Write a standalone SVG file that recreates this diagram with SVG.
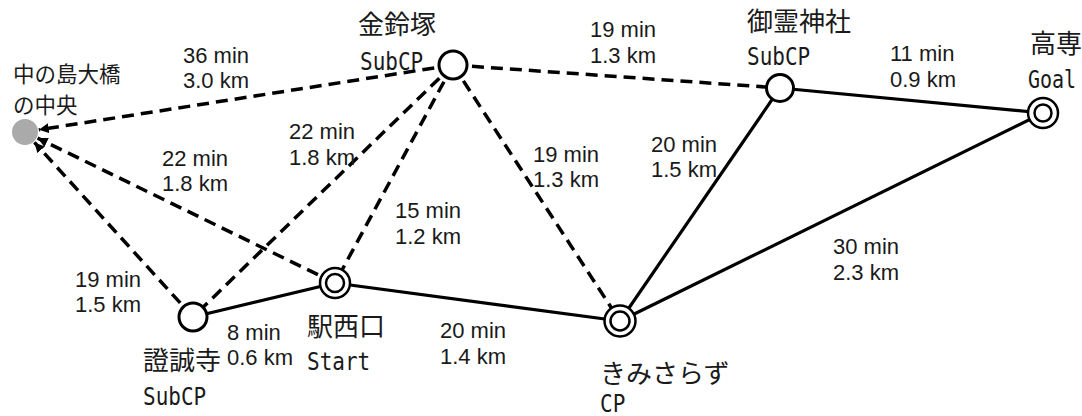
<svg xmlns="http://www.w3.org/2000/svg" width="1082" height="416" viewBox="0 0 1082 416">
<defs>
<style>
.e{stroke:#000;stroke-width:3.2;fill:none}
.d{stroke-dasharray:12 7;stroke-width:3.5}
.n{fill:#fff;stroke:#000;stroke-width:3}
.n2{fill:#fff;stroke:#000;stroke-width:2.5}
.l{font-family:"Liberation Sans",Arial,sans-serif;font-size:22px;fill:#1a1a1a}
.j{font-family:"Noto Sans CJK JP","Noto Sans CJK SC",sans-serif;font-size:26px;fill:#1a1a1a}
.j2{font-family:"Noto Sans CJK JP","Noto Sans CJK SC",sans-serif;font-size:21.5px;fill:#1a1a1a}
.m{font-family:"DejaVu Sans Mono","Liberation Mono",monospace;font-size:25px;fill:#1a1a1a}
</style>
<marker id="ah" viewBox="0 0 10 10" refX="10" refY="5" markerWidth="10" markerHeight="10" markerUnits="userSpaceOnUse" orient="auto">
<path d="M0,0 L10,5 L0,10 z" fill="#000"/>
</marker>
</defs>
<rect width="1082" height="416" fill="#fff"/>
<g id="connectors">
<line class="e d" x1="453" y1="65" x2="38.8" y2="129.8" marker-end="url(#ah)"/>
<line class="e d" x1="335" y1="283" x2="37.6" y2="138.1" marker-end="url(#ah)"/>
<line class="e d" x1="193" y1="317" x2="34.4" y2="142.4" marker-end="url(#ah)"/>
<line class="e d" x1="453" y1="65" x2="193" y2="317"/>
<line class="e d" x1="453" y1="65" x2="335" y2="283"/>
<line class="e d" x1="453" y1="65" x2="620" y2="321"/>
<line class="e d" x1="453" y1="65" x2="780" y2="88"/>
<line class="e" x1="193" y1="317" x2="335" y2="283"/>
<line class="e" x1="335" y1="283" x2="620" y2="321"/>
<line class="e" x1="620" y1="321" x2="780" y2="88"/>
<line class="e" x1="620" y1="321" x2="1043" y2="113"/>
<line class="e" x1="780" y1="88" x2="1043" y2="113"/>
</g>
<g id="edge-labels">
<text class="l" x="183" y="63">36 min</text><text class="l" x="183" y="88">3.0 km</text>
<text class="l" x="289" y="139">22 min</text><text class="l" x="289" y="165">1.8 km</text>
<text class="l" x="162" y="166">22 min</text><text class="l" x="162" y="191">1.8 km</text>
<text class="l" x="590" y="37">19 min</text><text class="l" x="590" y="63">1.3 km</text>
<text class="l" x="533" y="162">19 min</text><text class="l" x="533" y="187">1.3 km</text>
<text class="l" x="651" y="152">20 min</text><text class="l" x="651" y="177">1.5 km</text>
<text class="l" x="395" y="218">15 min</text><text class="l" x="395" y="244">1.2 km</text>
<text class="l" x="890" y="61">11 min</text><text class="l" x="890" y="87">0.9 km</text>
<text class="l" x="833" y="254">30 min</text><text class="l" x="833" y="280">2.3 km</text>
<text class="l" x="75" y="287">19 min</text><text class="l" x="75" y="312">1.5 km</text>
<text class="l" x="227" y="340">8 min</text><text class="l" x="227" y="365">0.6 km</text>
<text class="l" x="440" y="338">20 min</text><text class="l" x="440" y="364">1.4 km</text>
</g>
<g id="node-nakanoshima">
<circle cx="25" cy="132" r="13" fill="#aaaaaa"/>
<text class="j2" x="13" y="82">中の島大橋</text>
<text class="j2" x="13" y="113">の中央</text>
</g>
<g id="node-kanesuzuka">
<circle class="n" cx="453" cy="65" r="14"/>
<text class="j" x="358" y="34">金鈴塚</text>
<text class="m" transform="translate(360,70) scale(0.84,1)">SubCP</text>
</g>
<g id="node-goryo">
<circle class="n" cx="780" cy="88" r="13.5"/>
<text class="j" x="747" y="31">御霊神社</text>
<text class="m" transform="translate(747,65) scale(0.84,1)">SubCP</text>
</g>
<g id="node-kosen">
<circle class="n2" cx="1043" cy="113" r="15"/>
<circle class="n2" cx="1043" cy="113" r="8.5"/>
<text class="j" x="1030" y="53">高専</text>
<text class="m" transform="translate(1028,88) scale(0.8,1)">Goal</text>
</g>
<g id="node-ekinishiguchi">
<circle class="n2" cx="335" cy="283" r="15"/>
<circle class="n2" cx="335" cy="283" r="9"/>
<text class="j" x="307" y="336">駅西口</text>
<text class="m" transform="translate(307,370) scale(0.84,1)">Start</text>
</g>
<g id="node-shoseiji">
<circle class="n" cx="193" cy="317" r="14"/>
<text class="j" x="143" y="370">證誠寺</text>
<text class="m" transform="translate(143,405) scale(0.84,1)">SubCP</text>
</g>
<g id="node-kimisarazu">
<circle class="n2" cx="620" cy="321" r="15.5"/>
<circle class="n2" cx="620" cy="321" r="9.5"/>
<text class="j" x="600" y="383">きみさらず</text>
<text class="m" transform="translate(600,412) scale(0.84,1)">CP</text>
</g>
</svg>
